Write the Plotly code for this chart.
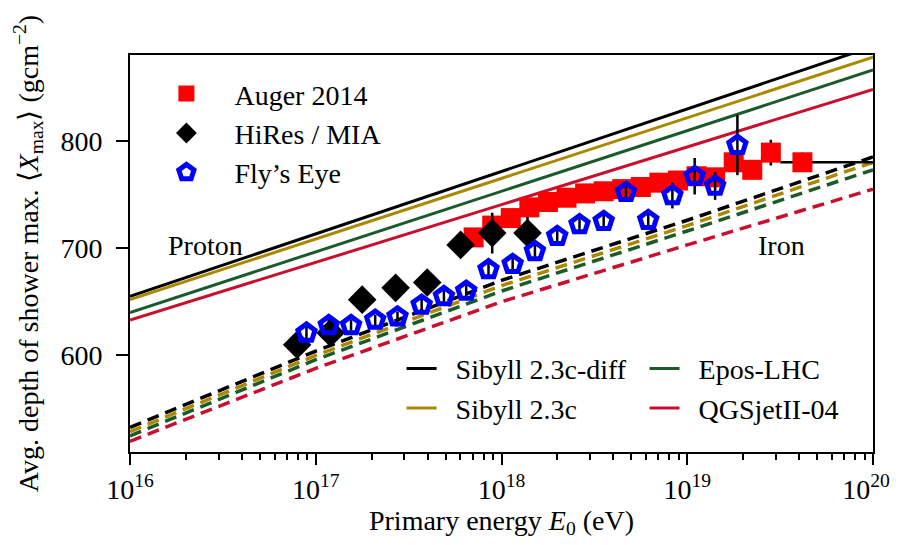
import plotly.graph_objects as go

# ---------------- data ----------------
# Auger 2014
auger_lgE = [17.85, 17.95, 18.05, 18.15, 18.25, 18.35, 18.45, 18.55, 18.65, 18.75,
             18.85, 18.95, 19.05, 19.15, 19.25, 19.35, 19.45, 19.62]
auger_xmax = [710, 721, 728, 738, 743, 747, 751, 753, 755, 757,
              761, 763, 767, 766, 780, 773, 789, 780]
auger_err = [5, 5, 4, 4, 4, 4, 4, 4, 4, 4, 5, 5, 6, 6, 8, 9, 12, 9]
auger_last_bin_lgE = [19.5, 20.0]

# HiRes / MIA
hires_lgE = [16.90, 17.08, 17.25, 17.43, 17.60, 17.78, 17.95, 18.14]
hires_xmax = [610, 621, 652, 663, 668, 703, 714, 714]
hires_err = [8, 10, 10, 10, 10, 12, 19, 15]

# Fly's Eye
fly_lgE = [16.95, 17.07, 17.19, 17.32, 17.44, 17.57, 17.69, 17.81, 17.93, 18.06,
           18.18, 18.30, 18.42, 18.55, 18.67, 18.79, 18.92, 19.04, 19.15, 19.27]
fly_xmax = [621, 628, 628, 633, 636, 647, 655, 660, 680, 685,
            697, 711, 722, 725, 752, 726, 749, 767, 758, 796]
fly_err = [6, 6, 5, 5, 5, 6, 6, 6, 6, 7, 7, 7, 8, 8, 8, 7, 12, 17, 13, 28]

# Model predictions
models = ["Sibyll 2.3c-diff", "Sibyll 2.3c", "Epos-LHC", "QGSjetII-04"]
proton_lgE = [16.0, 20.0]
proton_xmax = {
    "Sibyll 2.3c-diff": [655, 888],
    "Sibyll 2.3c": [652, 878],
    "Epos-LHC": [640, 866],
    "QGSjetII-04": [633, 848],
}
iron_lgE = [16.0, 17.0, 18.0, 19.0, 20.0]
iron_xmax = {
    "Sibyll 2.3c-diff": [533, 604, 670, 726, 785],
    "Sibyll 2.3c": [529, 600, 665, 721, 780],
    "Epos-LHC": [525, 596, 660, 716, 773],
    "QGSjetII-04": [520, 588, 650, 703, 755],
}
model_colors = {
    "Sibyll 2.3c-diff": "#000000",
    "Sibyll 2.3c": "#aa8800",
    "Epos-LHC": "#1b5a2b",
    "QGSjetII-04": "#c8102e",
}
model_legend = {
    "Sibyll 2.3c-diff": ("legend2", 1),
    "Sibyll 2.3c": ("legend2", 2),
    "Epos-LHC": ("legend3", 1),
    "QGSjetII-04": ("legend3", 2),
}

x_tick_lg = [16, 17, 18, 19, 20]
x_tick_text = ["10<sup>16</sup>", "10<sup>17</sup>", "10<sup>18</sup>", "10<sup>19</sup>",
               "10<sup>20</sup>\u2002"]
y_ticks = [600, 700, 800]

FONT = "Liberation Serif"
FS = 28


def E(lg):
    return [10.0 ** float(v) for v in lg]


fig = go.Figure()

# model lines (behind data)
for m in models:
    leg, rank = model_legend[m]
    fig.add_trace(go.Scatter(
        x=E(proton_lgE), y=proton_xmax[m], mode="lines",
        line=dict(color=model_colors[m], width=3),
        name="\u2002" + m, legend=leg, legendrank=rank, legendgroup=m,
        showlegend=True, hoverinfo="skip"))
for m in models:
    leg, rank = model_legend[m]
    fig.add_trace(go.Scatter(
        x=E(iron_lgE), y=iron_xmax[m], mode="lines",
        line=dict(color=model_colors[m], width=3.5, dash="12px,7px"),
        name=m + " (iron)", legend=leg, legendgroup=m,
        showlegend=False, hoverinfo="skip"))

# Auger 2014
auger_E = E(auger_lgE)
ex_plus = [0.0] * len(auger_E)
ex_minus = [0.0] * len(auger_E)
ex_minus[-1] = auger_E[-1] - 10.0 ** auger_last_bin_lgE[0]
ex_plus[-1] = 10.0 ** auger_last_bin_lgE[1] - auger_E[-1]
fig.add_trace(go.Scatter(
    x=auger_E, y=auger_xmax, mode="markers",
    marker=dict(symbol="square", size=20, color="#ff0000"),
    error_y=dict(type="data", array=auger_err, color="black", thickness=2.5, width=0),
    error_x=dict(type="data", array=ex_plus, arrayminus=ex_minus, symmetric=False,
                 color="black", thickness=2.5, width=0),
    name="\u2002\u2002Auger 2014", legend="legend", legendrank=1, legendgroup="a"))

# HiRes / MIA
fig.add_trace(go.Scatter(
    x=E(hires_lgE), y=hires_xmax, mode="markers",
    marker=dict(symbol="diamond", size=22, color="black"),
    error_y=dict(type="data", array=hires_err, color="black", thickness=2.5, width=0),
    name="\u2002\u2002HiRes / MIA", legend="legend", legendrank=2, legendgroup="b"))

# Fly's Eye
fig.add_trace(go.Scatter(
    x=E(fly_lgE), y=fly_xmax, mode="markers",
    marker=dict(symbol="pentagon-open", size=18, color="#0000ff", line=dict(width=5, color="#0000ff")),
    error_y=dict(type="data", array=fly_err, color="black", thickness=2.5, width=0),
    name="\u2002\u2002Fly\u2019s Eye", legend="legend", legendrank=3, legendgroup="c"))

fig.add_annotation(text="Proton", x=0.101, y=0.519, xref="paper", yref="paper",
                   xanchor="center", yanchor="middle",
                   showarrow=False, font=dict(family=FONT, size=FS, color="black"))
fig.add_annotation(text="Iron", x=0.877, y=0.519, xref="paper", yref="paper",
                   xanchor="center", yanchor="middle",
                   showarrow=False, font=dict(family=FONT, size=FS, color="black"))

legend_common = dict(bgcolor="rgba(0,0,0,0)", borderwidth=0, xanchor="left", yanchor="top",
                     font=dict(family=FONT, size=FS, color="black"), itemsizing="trace",
                     traceorder="normal")
# the page shows the figure with an 8 px body margin, so the figure is made
# 8 px smaller and its top/left margins 8 px narrower
fig.update_layout(
    width=892, height=537, autosize=False,
    margin=dict(l=122, r=27, t=47, b=93),
    paper_bgcolor="white", plot_bgcolor="white",
    font=dict(family=FONT, size=FS, color="black"),
    legend=dict(x=0.049, y=0.965, tracegroupgap=3, **legend_common),
    legend2=dict(x=0.3655, y=0.2725, tracegroupgap=2, **legend_common),
    legend3=dict(x=0.6925, y=0.2725, tracegroupgap=2, **legend_common),
    xaxis=dict(
        type="log", range=[16, 20], automargin=False,
        tickvals=E(x_tick_lg), ticktext=x_tick_text, ticklabeloverflow="allow",
        ticks="outside", ticklen=11, tickwidth=2, tickcolor="black",
        minor=dict(ticks="outside", ticklen=6, tickwidth=1.5, tickcolor="black", dtick="D1", showgrid=False),
        showline=True, linewidth=2, linecolor="black", mirror=True,
        showgrid=False, zeroline=False,
        tickfont=dict(family=FONT, size=FS, color="black"),
        title=dict(text="Primary energy <i>E</i><sub>0</sub> (eV)", standoff=6,
                   font=dict(family=FONT, size=FS, color="black")),
    ),
    yaxis=dict(
        range=[510, 880], tickvals=y_ticks, automargin=False,
        ticks="outside", ticklen=12, tickwidth=2, tickcolor="black", ticklabelstandoff=8,
        showline=True, linewidth=2, linecolor="black", mirror=True,
        showgrid=False, zeroline=False,
        tickfont=dict(family=FONT, size=FS, color="black"),
        title=dict(text="Avg. depth of shower max. \u27e8<i>X</i><sub>max</sub>\u27e9 (gcm<sup>\u22122</sup>)",
                   standoff=14, font=dict(family=FONT, size=FS, color="black")),
    ),
)

fig.write_html("out.html")
